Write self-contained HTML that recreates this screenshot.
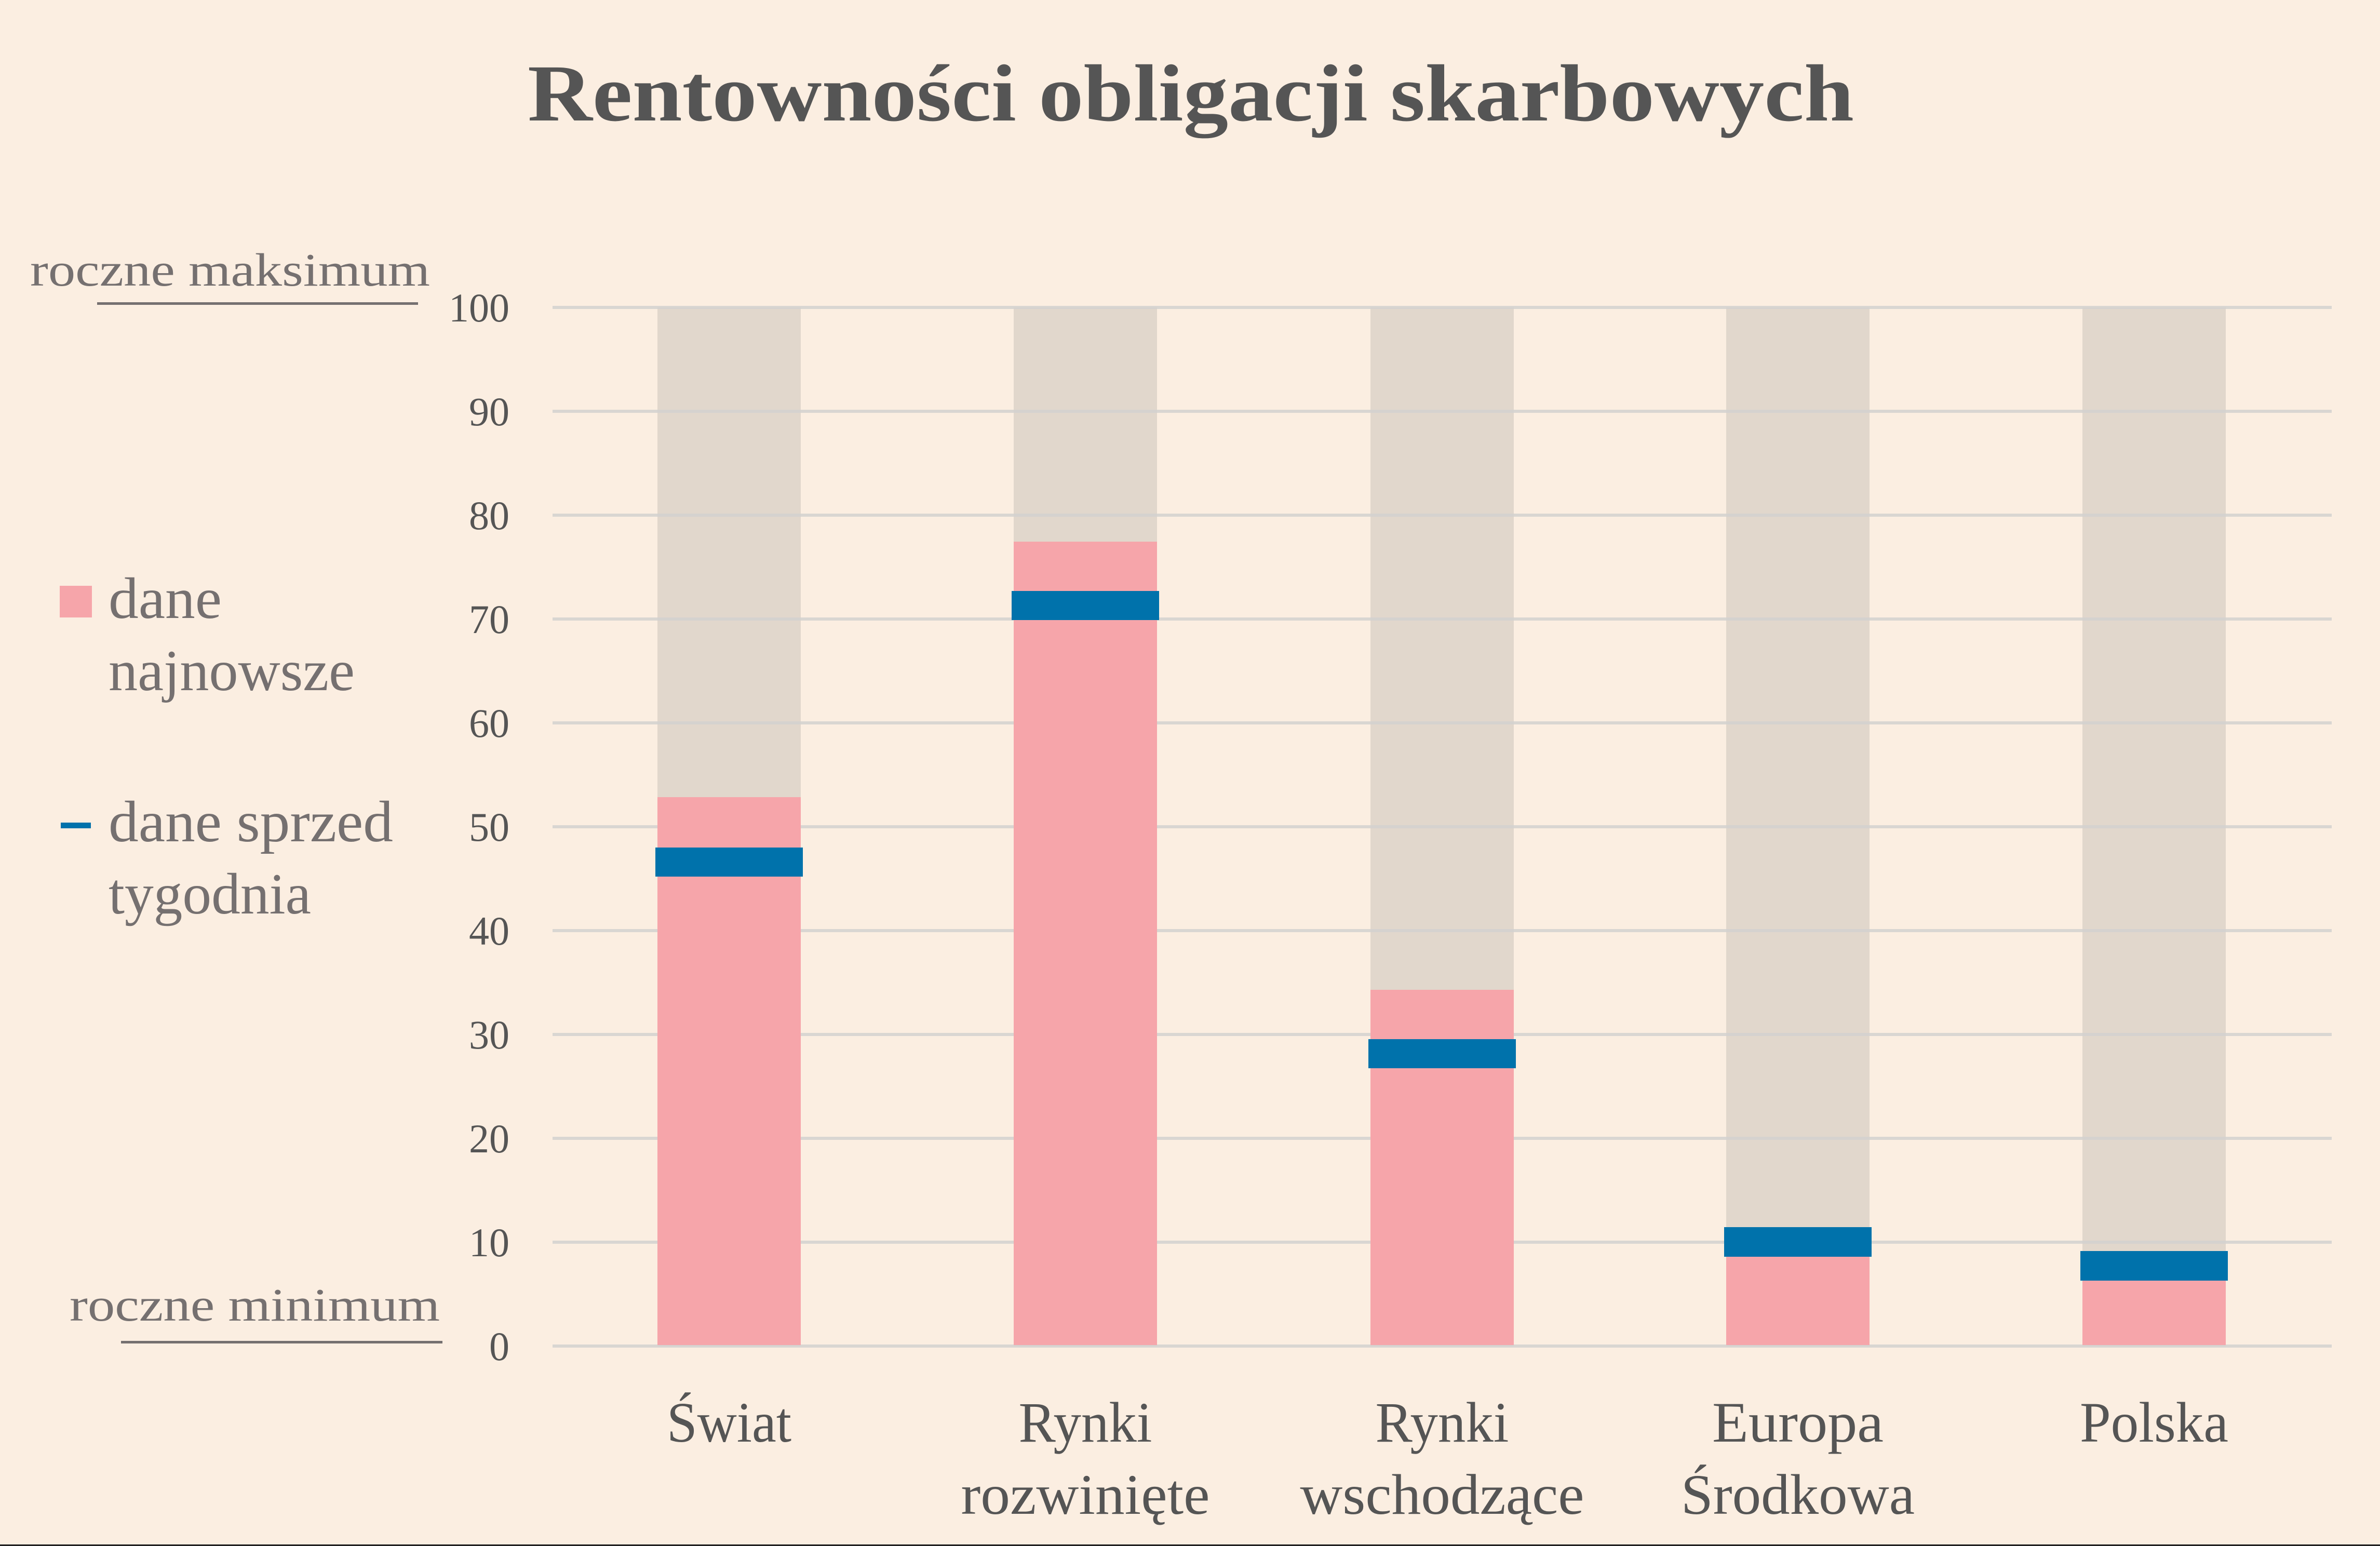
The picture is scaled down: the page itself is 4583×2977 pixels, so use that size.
<!DOCTYPE html>
<html><head><meta charset="utf-8"><style>
html,body{margin:0;padding:0;background:#fbeee1;}
svg{display:block;}
text{font-family:"Liberation Serif",serif;}
</style></head><body>
<svg width="4583" height="2977" viewBox="0 0 4583 2977" xmlns="http://www.w3.org/2000/svg">
<rect width="4583" height="2977" fill="#fbeee1"/>
<text x="1016" y="232" font-size="156" font-weight="bold" fill="#555555" textLength="2554" lengthAdjust="spacingAndGlyphs">Rentowności obligacji skarbowych</text>

<g fill="#e1d7cc">
<rect x="1266" y="592" width="276" height="2000"/>
<rect x="1952" y="592" width="276" height="2000"/>
<rect x="2639" y="592" width="276" height="2000"/>
<rect x="3324" y="592" width="276" height="2000"/>
<rect x="4010" y="592" width="276" height="2000"/>
</g>

<g stroke="#d4d2d0" stroke-width="6" opacity="0.85">
<line x1="1064" x2="4490" y1="592" y2="592"/>
<line x1="1064" x2="4490" y1="792" y2="792"/>
<line x1="1064" x2="4490" y1="992" y2="992"/>
<line x1="1064" x2="4490" y1="1192" y2="1192"/>
<line x1="1064" x2="4490" y1="1392" y2="1392"/>
<line x1="1064" x2="4490" y1="1592" y2="1592"/>
<line x1="1064" x2="4490" y1="1792" y2="1792"/>
<line x1="1064" x2="4490" y1="1992" y2="1992"/>
<line x1="1064" x2="4490" y1="2192" y2="2192"/>
<line x1="1064" x2="4490" y1="2392" y2="2392"/>
<line x1="1064" x2="4490" y1="2592" y2="2592"/>
</g>

<g fill="#f6a5aa">
<rect x="1266" y="1535" width="276" height="1055"/>
<rect x="1952" y="1043" width="276" height="1547"/>
<rect x="2639" y="1906" width="276" height="684"/>
<rect x="3324" y="2410" width="276" height="180"/>
<rect x="4010" y="2455" width="276" height="135"/>
</g>

<g fill="#0072ab">
<rect x="1262" y="1632" width="284" height="56"/>
<rect x="1948" y="1138" width="284" height="56"/>
<rect x="2635" y="2001" width="284" height="56"/>
<rect x="3320" y="2363" width="284" height="57"/>
<rect x="4006" y="2409" width="284" height="57"/>
</g>

<g font-size="78" fill="#555555" text-anchor="end">
<text x="981" y="619">100</text>
<text x="981" y="819">90</text>
<text x="981" y="1019">80</text>
<text x="981" y="1219">70</text>
<text x="981" y="1419">60</text>
<text x="981" y="1619">50</text>
<text x="981" y="1819">40</text>
<text x="981" y="2019">30</text>
<text x="981" y="2219">20</text>
<text x="981" y="2419">10</text>
<text x="981" y="2619">0</text>
</g>

<text x="58" y="550" font-size="90" fill="#757070" textLength="770" lengthAdjust="spacingAndGlyphs">roczne maksimum</text>
<rect x="187" y="582" width="618" height="5" fill="#757070"/>
<text x="134" y="2543" font-size="90" fill="#757070" textLength="713" lengthAdjust="spacingAndGlyphs">roczne minimum</text>
<rect x="233" y="2582" width="619" height="5" fill="#757070"/>

<rect x="115" y="1128" width="62" height="61" fill="#f6a5aa"/>
<rect x="117" y="1584" width="58" height="11" fill="#0072ab"/>
<g font-size="112" fill="#757070">
<text x="209" y="1190" textLength="218" lengthAdjust="spacingAndGlyphs">dane</text>
<text x="209" y="1329" textLength="474" lengthAdjust="spacingAndGlyphs">najnowsze</text>
<text x="209" y="1620" textLength="548" lengthAdjust="spacingAndGlyphs">dane sprzed</text>
<text x="209" y="1759" textLength="390" lengthAdjust="spacingAndGlyphs">tygodnia</text>
</g>

<g font-size="110" fill="#555555" text-anchor="middle">
<text x="1404" y="2776" textLength="240" lengthAdjust="spacingAndGlyphs">Świat</text>
<text x="2090" y="2776" textLength="257" lengthAdjust="spacingAndGlyphs">Rynki</text>
<text x="2090" y="2915" textLength="479" lengthAdjust="spacingAndGlyphs">rozwinięte</text>
<text x="2777" y="2776" textLength="257" lengthAdjust="spacingAndGlyphs">Rynki</text>
<text x="2777" y="2915" textLength="547" lengthAdjust="spacingAndGlyphs">wschodzące</text>
<text x="3462" y="2776" textLength="330" lengthAdjust="spacingAndGlyphs">Europa</text>
<text x="3462" y="2915" textLength="450" lengthAdjust="spacingAndGlyphs">Środkowa</text>
<text x="4148" y="2776" textLength="286" lengthAdjust="spacingAndGlyphs">Polska</text>
</g>

<rect x="0" y="2974" width="4583" height="3" fill="#222"/>
</svg>
</body></html>
